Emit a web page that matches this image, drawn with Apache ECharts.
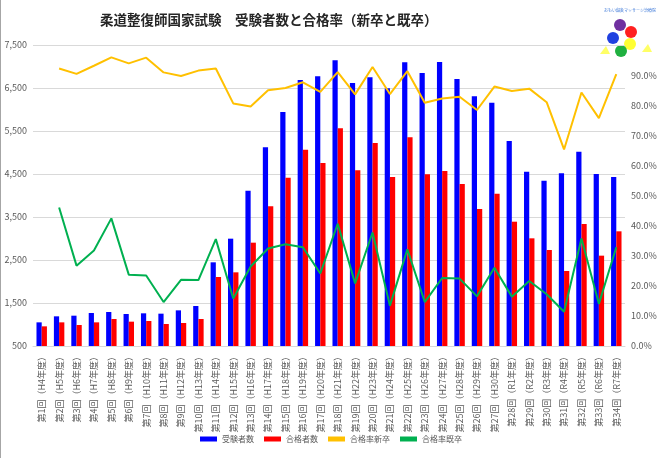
<!DOCTYPE html>
<html><head><meta charset="utf-8">
<script src="https://cdn.jsdelivr.net/npm/echarts@6/dist/echarts.min.js"></script>
<style>html,body{margin:0;padding:0;background:#fff}#c{width:662px;height:458px}</style>
</head><body><div id="c"></div>
<script>
const categories = ['第1回（H4年度）','第2回（H5年度）','第3回（H6年度）','第4回（H7年度）','第5回（H8年度）','第6回（H9年度）','第7回（H10年度）','第8回（H11年度）','第9回（H12年度）','第10回（H13年度）','第11回（H14年度）','第12回（H15年度）','第13回（H16年度）','第14回（H17年度）','第15回（H18年度）','第16回（H19年度）','第17回（H20年度）','第18回（H21年度）','第19回（H22年度）','第20回（H23年度）','第21回（H24年度）','第22回（H25年度）','第23回（H26年度）','第24回（H27年度）','第25回（H28年度）','第26回（H29年度）','第27回（H30年度）','第28回（R1年度）','第29回（R2年度）','第30回（R3年度）','第31回（R4年度）','第32回（R5年度）','第33回（R6年度）','第34回（R7年度）'];
const examinees = [1050,1190,1205,1267,1291,1244,1260,1252,1329,1430,2446,2996,4112,5120,5942,6686,6771,7143,6616,6748,6492,7097,6849,7105,6709,6306,6159,5267,4554,4345,4516,5019,4500,4430];
const passers = [957,1050,988,1050,1128,1066,1081,1012,1035,1128,2105,2213,2903,3748,4415,5066,4756,5562,4585,5221,4430,5353,4492,4570,4267,3686,4043,3391,3004,2733,2244,3337,2601,3167];
const rateNew = [null,92.2,90.4,93.1,95.9,93.9,95.8,90.9,89.7,91.5,92.2,80.6,79.6,85.0,85.7,87.6,84.4,91.0,83.6,92.7,83.7,91.3,80.8,82.2,82.8,78.4,86.2,84.7,85.5,81.0,65.3,84.2,75.7,90.3];
const rateRepeat = [null,46.0,26.7,31.7,42.4,23.7,23.4,14.6,22.0,21.9,35.5,15.8,26.4,32.4,33.8,32.8,24.1,40.6,20.8,37.7,13.4,32.1,14.6,22.6,22.4,16.5,26.0,16.4,21.6,17.2,11.4,35.7,14.0,32.8];
const seriesNames = ['受験者数','合格者数','合格率新卒','合格率既卒'];

const chart = echarts.init(document.getElementById('c'));
const txt = '#595959';
const font = '"Noto Sans CJK JP","Noto Sans",sans-serif';
chart.setOption({
  animation: false,
  textStyle: {fontFamily: font},
  title: {
    text: '柔道整復師国家試験　受験者数と合格率（新卒と既卒）',
    left: 95, top: 8,
    textStyle: {fontSize: 13.5, fontWeight: 'bold', color: '#262626', fontFamily: font}
  },
  legend: {
    bottom: 10, left: 'center',
    itemWidth: 17, itemHeight: 5, itemGap: 10,
    icon: 'rect',
    textStyle: {fontSize: 8, color: txt, fontFamily: font},
    data: seriesNames
  },
  grid: {left: 33, right: 37, top: 45, bottom: 112, containLabel: false},
  xAxis: {
    type: 'category', data: categories,
    axisTick: {show: false},
    axisLine: {lineStyle: {color: '#d9d9d9'}},
    axisLabel: {rotate: 90, interval: 0, fontSize: 9, color: txt, margin: 6, fontFamily: font}
  },
  yAxis: [{
    type: 'value', min: 500, max: 7500, interval: 1000,
    axisLine: {show: false}, axisTick: {show: false},
    splitLine: {lineStyle: {color: '#d9d9d9'}},
    axisLabel: {fontSize: 9, color: txt, margin: 6, formatter: v => v.toLocaleString('en-US')}
  }, {
    type: 'value', min: 0, max: 100, interval: 10,
    axisLine: {show: false}, axisTick: {show: false},
    splitLine: {show: false},
    axisLabel: {fontSize: 9, color: txt, margin: 6, showMaxLabel: false, formatter: v => v.toFixed(1) + '%'}
  }],
  series: [
    {name: seriesNames[0], type: 'bar', data: examinees, barWidth: '30%', barGap: '0%', itemStyle: {color: '#0000ff'}},
    {name: seriesNames[1], type: 'bar', data: passers, barWidth: '30%', barGap: '0%', itemStyle: {color: '#ff0000'}},
    {name: seriesNames[2], type: 'line', yAxisIndex: 1, data: rateNew, symbol: 'none', lineStyle: {color: '#ffc000', width: 2}, itemStyle: {color: '#ffc000'}},
    {name: seriesNames[3], type: 'line', yAxisIndex: 1, data: rateRepeat, symbol: 'none', lineStyle: {color: '#00b050', width: 2}, itemStyle: {color: '#00b050'}}
  ],
  graphic: [
    {type: 'line', shape: {x1: 0.5, y1: 0, x2: 0.5, y2: 458}, style: {stroke: '#a6a6a6', lineWidth: 1}},
    {type: 'group', left: 600, top: 8, children: [
      {type: 'text', left: 8, top: 0, style: {text: 'おもい鍼灸マッサージ治療院', fontSize: 4, fill: '#3c78d8', fontFamily: font}},
      {type: 'polygon', shape: {points: [[4,46],[10,38],[14,46]]}, style: {fill: '#ffff66'}},
      {type: 'polygon', shape: {points: [[46,44],[52,36],[56,44]]}, style: {fill: '#ffff66'}},
      {type: 'circle', shape: {cx: 24, cy: 17, r: 6}, style: {fill: '#7030a0'}},
      {type: 'circle', shape: {cx: 35, cy: 24, r: 6}, style: {fill: '#ff2020'}},
      {type: 'circle', shape: {cx: 17, cy: 30, r: 6}, style: {fill: '#2040e0'}},
      {type: 'circle', shape: {cx: 34, cy: 36, r: 6}, style: {fill: '#ffff33'}},
      {type: 'circle', shape: {cx: 25, cy: 43, r: 6}, style: {fill: '#20b040'}}
    ]}
  ]
});
</script></body></html>
